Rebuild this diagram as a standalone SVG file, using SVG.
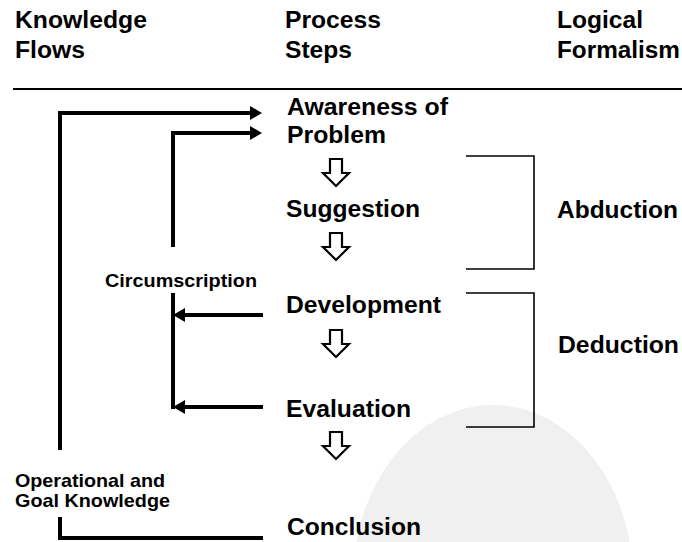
<svg xmlns="http://www.w3.org/2000/svg" width="682" height="542" viewBox="0 0 682 542">
<defs>
<style>
text{font-family:"Liberation Sans",Arial,sans-serif;font-weight:bold;fill:#000}
.h{font-size:23px}
.s{font-size:18.5px}
.flow{fill:none;stroke:#000;stroke-width:4}
.br{fill:none;stroke:#000;stroke-width:1.6}
.down{fill:#fff;stroke:#000;stroke-width:2.2;stroke-linejoin:miter}
</style>
<marker id="ah" markerUnits="userSpaceOnUse" markerWidth="13" markerHeight="15" refX="0" refY="7" orient="auto">
<path d="M0,0 L12,7 L0,14 z" fill="#000"/>
</marker>
<path id="dn" d="M-6,0 H6 V14 H13 L0,27 L-13,14 H-6 Z"/>
</defs>
<rect width="682" height="542" fill="#fff"/>
<g id="watermark">
<ellipse cx="493" cy="580" rx="140" ry="175" fill="#f0f0f0"/>
</g>
<g id="headers">
<text class="h" x="15" y="28" textLength="132" lengthAdjust="spacingAndGlyphs">Knowledge</text>
<text class="h" x="15" y="58" textLength="70" lengthAdjust="spacingAndGlyphs">Flows</text>
<text class="h" x="285" y="28" textLength="96" lengthAdjust="spacingAndGlyphs">Process</text>
<text class="h" x="285" y="58" textLength="67" lengthAdjust="spacingAndGlyphs">Steps</text>
<text class="h" x="557" y="28" textLength="86" lengthAdjust="spacingAndGlyphs">Logical</text>
<text class="h" x="557" y="58" textLength="123" lengthAdjust="spacingAndGlyphs">Formalism</text>
<line x1="13" y1="89" x2="682" y2="89" stroke="#000" stroke-width="2"/>
</g>
<g id="step-awareness">
<text class="h" x="287" y="115" textLength="161" lengthAdjust="spacingAndGlyphs">Awareness of</text>
<text class="h" x="287" y="143" textLength="99" lengthAdjust="spacingAndGlyphs">Problem</text>
</g>
<g id="step-suggestion"><text class="h" x="286" y="217" textLength="134" lengthAdjust="spacingAndGlyphs">Suggestion</text></g>
<g id="step-development"><text class="h" x="286" y="313" textLength="155" lengthAdjust="spacingAndGlyphs">Development</text></g>
<g id="step-evaluation"><text class="h" x="286" y="417" textLength="125" lengthAdjust="spacingAndGlyphs">Evaluation</text></g>
<g id="step-conclusion"><text class="h" x="287" y="535" textLength="134" lengthAdjust="spacingAndGlyphs">Conclusion</text></g>
<g id="abduction"><text class="h" x="557" y="218" textLength="121" lengthAdjust="spacingAndGlyphs">Abduction</text></g>
<g id="deduction"><text class="h" x="558" y="353" textLength="121" lengthAdjust="spacingAndGlyphs">Deduction</text></g>
<g id="circumscription"><text class="s" x="105" y="287" textLength="152" lengthAdjust="spacingAndGlyphs">Circumscription</text></g>
<g id="operational">
<text class="s" x="15" y="487" textLength="150" lengthAdjust="spacingAndGlyphs">Operational and</text>
<text class="s" x="15" y="507" textLength="155" lengthAdjust="spacingAndGlyphs">Goal Knowledge</text>
</g>
<g id="connectors">
<path class="flow" d="M60,450 V113 H250" marker-end="url(#ah)"/>
<path class="flow" d="M60,517 V538 H263"/>
<path class="flow" d="M173,247 V133 H250" marker-end="url(#ah)"/>
<path class="flow" d="M173,293 V409"/>
<path class="flow" d="M263,315 H185" marker-end="url(#ah)"/>
<path class="flow" d="M263,407 H185" marker-end="url(#ah)"/>
<use href="#dn" class="down" x="336" y="159"/>
<use href="#dn" class="down" x="336" y="233"/>
<use href="#dn" class="down" x="336" y="330"/>
<use href="#dn" class="down" x="336" y="432"/>
<path class="br" d="M466,156 H534 V269 H466"/>
<path class="br" d="M466,293 H534 V427 H466"/>
</g>
</svg>
